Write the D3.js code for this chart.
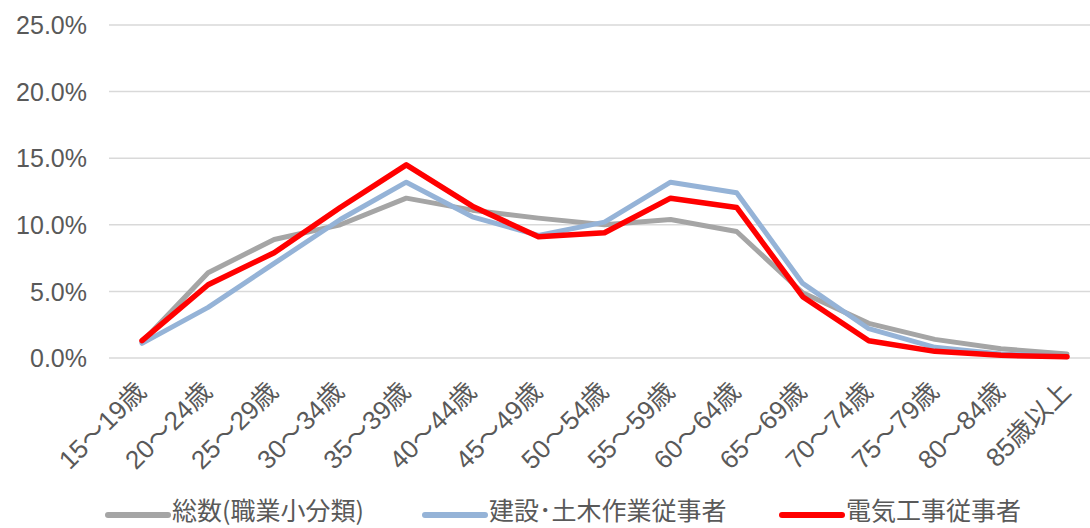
<!DOCTYPE html>
<meta charset="utf-8">
<style>
body { margin: 0; background: #fff; }
.yLabel { font-family: "Liberation Sans", Arial, sans-serif; font-size: 25px; }
.xLabel { font-family: "Liberation Sans", "Noto Sans CJK JP", sans-serif; font-size: 26px; }
.legendText { fill: #595959; font-family: "Noto Sans CJK JP", sans-serif; font-size: 25px; }
</style>
<svg width="1090" height="528"></svg>
<script src="https://cdn.jsdelivr.net/npm/d3@7"></script>
<script>

const ageGroups = ["15～19歳", "20～24歳", "25～29歳", "30～34歳", "35～39歳", "40～44歳", "45～49歳",
  "50～54歳", "55～59歳", "60～64歳", "65～69歳", "70～74歳", "75～79歳", "80～84歳", "85歳以上"];

const seriesNames = ["総数(職業小分類)", "建設･土木作業従事者", "電気工事従事者"];
const seriesColors = ["#a5a5a5", "#95b3d7", "#ff0000"];

// share by age group (%)
const totalValues = [1.2, 6.4, 8.9, 10.0, 12.0, 11.1, 10.5, 10.0, 10.4, 9.5, 4.9, 2.6, 1.4, 0.7, 0.3];
const constructionValues = [1.1, 3.8, 7.1, 10.4, 13.2, 10.6, 9.2, 10.2, 13.2, 12.4, 5.6, 2.2, 0.8, 0.3, 0.1];
const electricValues = [1.3, 5.5, 7.9, 11.3, 14.5, 11.4, 9.1, 9.4, 12.0, 11.3, 4.6, 1.3, 0.5, 0.2, 0.1];

const yTicks = [0, 5, 10, 15, 20, 25];

const svg = d3.select("svg");

const x = d3.scalePoint()
    .domain(ageGroups)
    .range([109, 1100])
    .padding(0.5);

const y = d3.scaleLinear()
    .domain([0, 25])
    .range([358, 25]);

//gridlines
svg.append("g")
    .selectAll("line")
    .data(yTicks)
    .enter().append("line")
    .attr("x1", 109)
    .attr("x2", 1100)
    .attr("y1", d => y(d))
    .attr("y2", d => y(d))
    .attr("stroke", "#d9d9d9")
    .attr("stroke-width", 1.5);

//y axis labels
const yAxis = svg.append("g")
    .attr("transform", "translate(87,0)")
    .call(d3.axisLeft(y).tickValues(yTicks).tickSize(0).tickPadding(0).tickFormat(d => d.toFixed(1) + "%"));
yAxis.select(".domain").remove();
yAxis.selectAll("text").attr("class", "yLabel").attr("dy", "0.35em").attr("fill", "#595959");

//x axis labels, rotated
const xAxis = svg.append("g")
    .attr("transform", "translate(0,358)")
    .call(d3.axisBottom(x).tickSize(0).tickPadding(0));
xAxis.select(".domain").remove();
xAxis.selectAll("text")
    .attr("class", "xLabel")
    .attr("fill", "#595959")
    .attr("text-anchor", "end")
    .attr("dy", null)
    .attr("y", 0)
    .attr("transform", "translate(5,35) rotate(-45)");

//lines
const line = d3.line()
    .x((d, i) => x(ageGroups[i]))
    .y(d => y(d));

const allSeries = [totalValues, constructionValues, electricValues];

svg.append("g")
    .selectAll("path")
    .data(allSeries)
    .enter().append("path")
    .attr("d", d => line(d))
    .attr("fill", "none")
    .attr("stroke", (d, i) => seriesColors[i])
    .attr("stroke-width", (d, i) => i == 2 ? 5.5 : 5)
    .attr("stroke-linejoin", "round")
    .attr("stroke-linecap", "round");

//legend
const legendX = [108, 425, 782];
const legend = svg.append("g")
    .selectAll("g")
    .data(seriesNames)
    .enter().append("g")
    .attr("transform", (d, i) => `translate(${legendX[i]}, 515)`);
legend.append("line")
    .attr("x1", 0).attr("x2", 60)
    .attr("stroke", (d, i) => seriesColors[i])
    .attr("stroke-width", 6)
    .attr("stroke-linecap", "round");
legend.append("text")
    .attr("class", "legendText")
    .attr("x", 64)
    .attr("y", 5)
    .text(d => d);

</script>
